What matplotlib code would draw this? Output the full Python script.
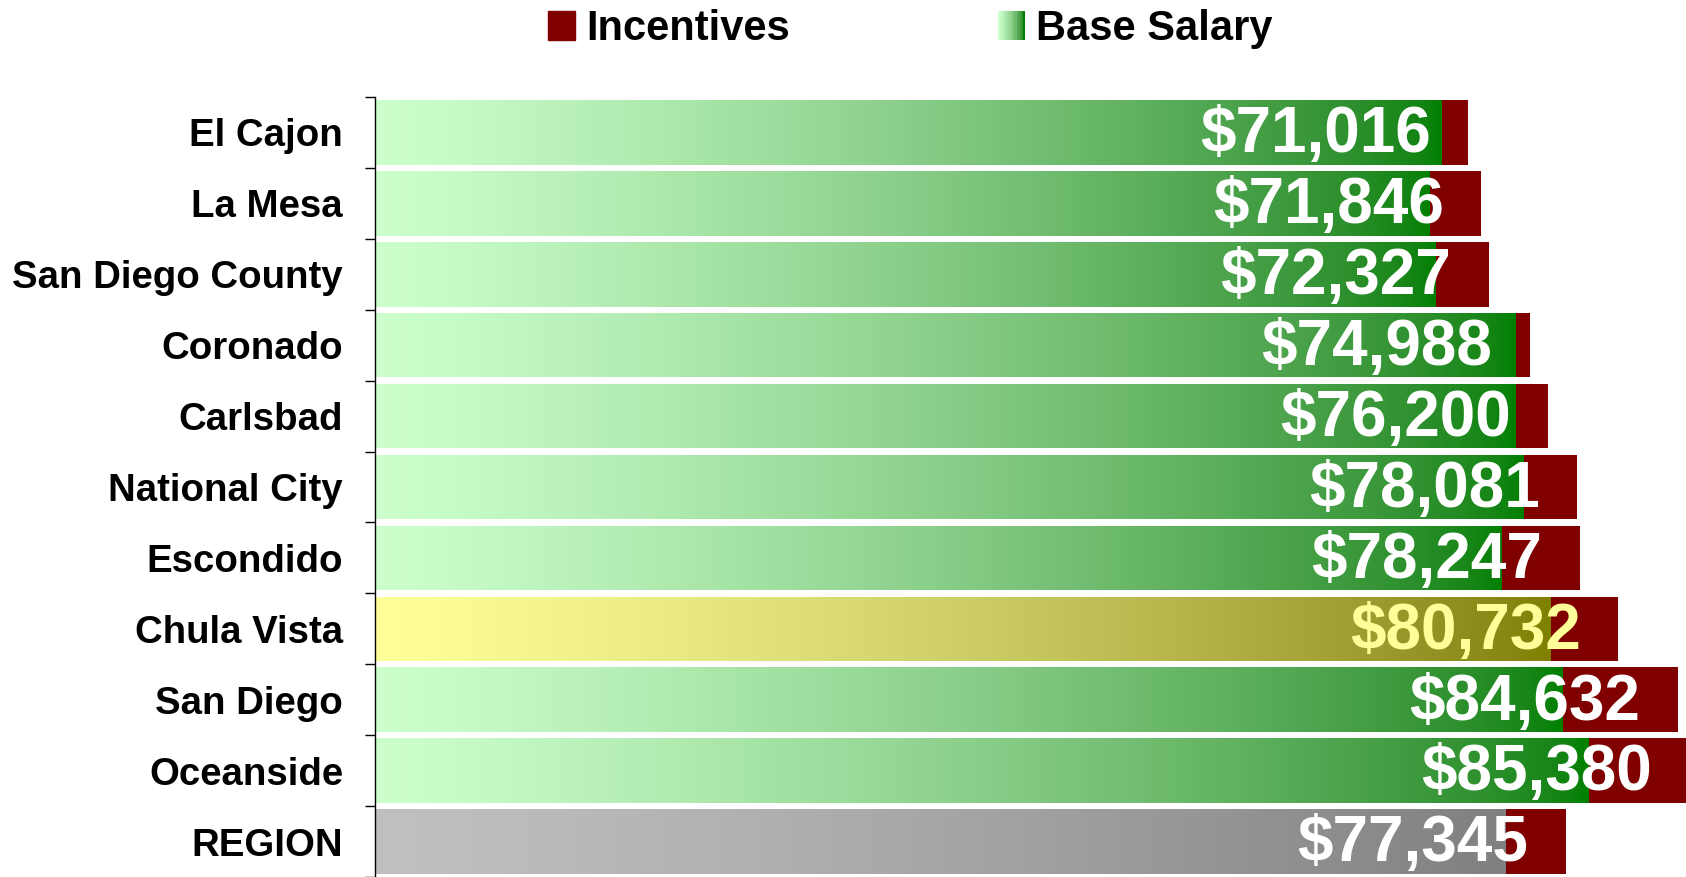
import matplotlib
matplotlib.use("Agg")
import matplotlib.pyplot as plt
import numpy as np
from matplotlib.patches import Rectangle
from matplotlib.legend_handler import HandlerBase

plt.rcParams['font.family'] = ['Liberation Sans', 'DejaVu Sans']
plt.rcParams['font.weight'] = 'bold'

# data (top to bottom)
cities = ['El Cajon', 'La Mesa', 'San Diego County', 'Coronado', 'Carlsbad',
          'National City', 'Escondido', 'Chula Vista', 'San Diego', 'Oceanside',
          'REGION']
totals = [71016, 71846, 72327, 74988, 76200, 78081, 78247, 80732, 84632, 85380, 77345]
base_salary = [69330, 68550, 68940, 74140, 74140, 74660, 73230, 76350, 77130, 78820, 73490]
incentives = [t - b for t, b in zip(totals, base_salary)]

# gradient colours (light -> dark)
green = ('#CCFFCC', '#008000')
yellow = ('#FFFF99', '#808000')
gray = ('#C0C0C0', '#808080')
red = '#800000'


def to_lin(c):
    c = np.asarray(c)
    return np.where(c <= 0.04045, c / 12.92, ((c + 0.055) / 1.055) ** 2.4)


def to_srgb(c):
    return np.where(c <= 0.0031308, c * 12.92, 1.055 * c ** (1 / 2.4) - 0.055)


def grad_colors(c0, c1, n=256):
    # mix of a plain rgb blend and a linear-light blend
    a = np.array(matplotlib.colors.to_rgb(c0))
    b = np.array(matplotlib.colors.to_rgb(c1))
    t = (np.linspace(0, 1, n) ** 1.2)[:, None]
    plain = a * (1 - t) + b * t
    light = to_srgb(to_lin(a) * (1 - t) + to_lin(b) * t)
    return np.clip(0.5 * plain + 0.5 * light, 0, 1)


class GradientHandler(HandlerBase):
    def create_artists(self, legend, orig_handle, xdescent, ydescent,
                       width, height, fontsize, trans):
        n = 16
        cols = grad_colors(*green, n)
        arts = []
        for i in range(n):
            r = Rectangle((-xdescent + i * width / n, -ydescent), width / n * 1.05,
                          height, facecolor=cols[i], edgecolor='none',
                          transform=trans)
            arts.append(r)
        return arts


fig = plt.figure(figsize=(16.86, 8.77), dpi=100)
ax = fig.add_axes([375 / 1686, 0, 1 - 375 / 1686, 780 / 877])

y = np.arange(len(cities))
h = 0.91

bars = ax.barh(y, base_salary, height=h, color='none', edgecolor='none')
for i, bar in enumerate(bars):
    if cities[i] == 'Chula Vista':
        cc = yellow
    elif cities[i] == 'REGION':
        cc = gray
    else:
        cc = green
    img = grad_colors(*cc)[None, :, :]
    im = ax.imshow(img, extent=(0, base_salary[i], y[i] + h / 2, y[i] - h / 2),
                   aspect='auto', interpolation='bilinear', zorder=2)
    im.set_clip_path(bar)

ax.barh(y, incentives, left=base_salary, height=h, color=red, edgecolor='none', zorder=2)

for i, tot in enumerate(totals):
    col = '#FFFF99' if cities[i] == 'Chula Vista' else 'white'
    ax.annotate('${:,}'.format(tot), xy=(tot, y[i]), xytext=(-27, -2),
                textcoords='offset points', ha='right', va='center',
                fontsize=46, fontweight='bold', color=col, zorder=3,
                annotation_clip=False)

ax.set_xlim(0, 85150)
ax.set_ylim(10.45, -0.5)

for s in ['top', 'right', 'bottom']:
    ax.spines[s].set_visible(False)
ax.spines['left'].set_linewidth(1.0)
ax.set_xticks([])
ax.set_yticks(y)
ax.set_yticklabels(cities, fontsize=27.6, fontweight='bold')
ax.tick_params(axis='y', which='major', length=0, pad=23)
ax.set_yticks(np.arange(-0.5, len(cities), 1), minor=True)
ax.tick_params(axis='y', which='minor', length=7, width=1)

handles = [Rectangle((0, 0), 1, 1, color=red), Rectangle((0, 0), 1, 1, color=green[1])]
fig.legend(handles, ['Incentives', 'Base Salary'], ncol=2, frameon=False,
           loc='center left', bbox_to_anchor=(548 / 1686, 1 - 29 / 877),
           borderaxespad=0, borderpad=0,
           prop={'weight': 'bold', 'size': 30},
           handlelength=0.65, handleheight=0.72, handletextpad=0.26,
           columnspacing=5.0,
           handler_map={handles[1]: GradientHandler()})

fig.savefig('out.png', dpi=100)
